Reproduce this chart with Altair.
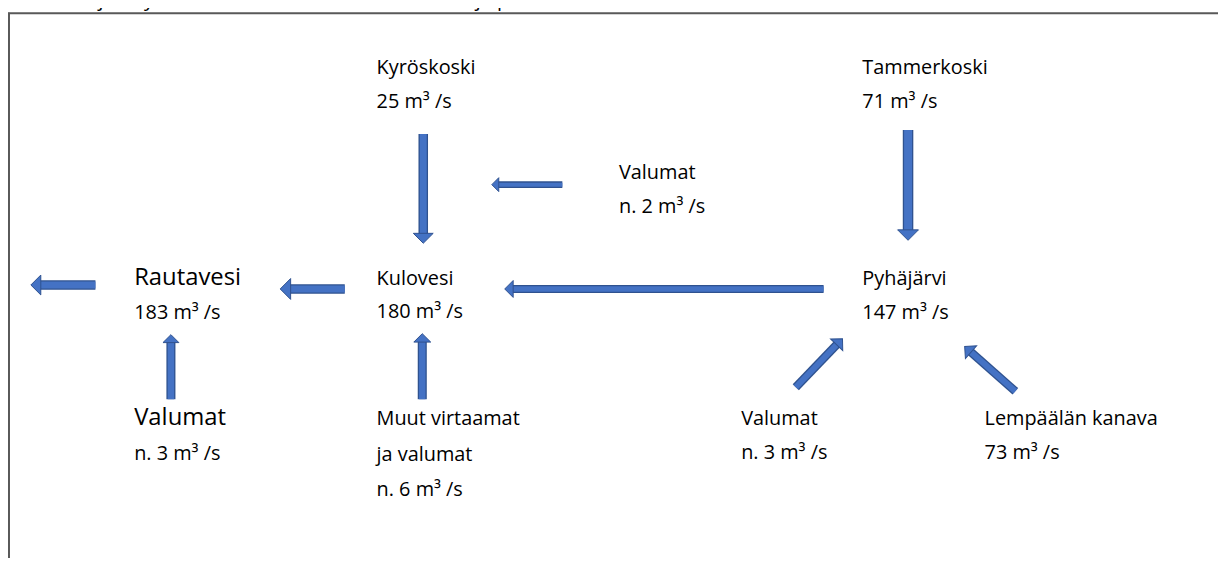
import math
import altair as alt
import pandas as pd

# ---- text labels (left x, baseline y in picture pixels) ----
label_text = ["Kyröskoski", "25 m³ /s", "Tammerkoski", "71 m³ /s",
              "Valumat", "n. 2 m³ /s",
              "Rautavesi", "183 m³ /s", "Kulovesi", "180 m³ /s",
              "Pyhäjärvi", "147 m³ /s",
              "Valumat", "n. 3 m³ /s",
              "Muut virtaamat", "ja valumat", "n. 6 m³ /s",
              "Valumat", "n. 3 m³ /s", "Lempäälän kanava", "73 m³ /s"]
label_x = [379, 379, 868, 868, 623, 623, 135, 135, 379, 379, 868, 868,
           135, 135, 379, 379, 379, 746, 746, 991, 991]
label_y = [73, 107, 73, 107, 178, 213, 285, 319, 285, 318, 285, 319,
           426, 461, 426, 462, 497, 426, 460, 426, 460]
label_size = [20, 20, 20, 20, 20, 20, 24, 20, 20, 20, 20, 20,
              24, 20, 20, 20, 20, 20, 20, 20, 20]

# ---- arrows: tail -> tip ----
arrow_tail_x = [96, 347, 829, 426, 566, 425, 172, 914, 801, 1022]
arrow_tail_y = [285, 289, 289, 133, 184, 400, 400, 129, 388, 392]
arrow_tip_x = [31, 282, 508, 426, 495, 425, 172, 914, 848, 971]
arrow_tip_y = [285, 289, 289, 243, 184, 334, 335, 240, 339, 347]
arrow_body = [9, 9, 7.5, 9, 6, 8.5, 8.5, 10, 8, 8]
arrow_head = [20, 21, 17, 20, 14, 17, 16, 21, 17, 17]

# ---- frame lines ----
frame_x = [8, 9]
frame_y = [11.5, 11]
frame_x2 = [1226, 9]
frame_y2 = [11.5, 566]

title_text = "Kokemäenjoen yläosan kalatalousalueen virtaamat ja pintavesien valumat."

FILL = "#4472C4"
EDGE = "#2F528F"
FONT = "Open Sans"

rows = []
for tx, ty, hx, hy, b, w in zip(arrow_tail_x, arrow_tail_y, arrow_tip_x,
                                arrow_tip_y, arrow_body, arrow_head):
    dx, dy = hx - tx, hy - ty
    ln = math.hypot(dx, dy)
    ux, uy = dx / ln, dy / ln
    hl = w / 2 - 1
    rows.append(dict(tx=tx, ty=ty, hx=hx, hy=hy,
                     bx=hx - ux * hl, by=hy - uy * hl,
                     outer=b + 0.6, inner=b - 2.0,
                     size=w * w,
                     angle=(math.degrees(math.atan2(dx, -dy)) + 360) % 360))
arrows = pd.DataFrame(rows)

labels = pd.DataFrame(dict(t=label_text, x=label_x, y=label_y, s=label_size))
frame = pd.DataFrame(dict(x=frame_x, y=frame_y, x2=frame_x2, y2=frame_y2))
title = pd.DataFrame(dict(t=[title_text], x=[0], y=[4]))

W, H = 1218, 550
xs = alt.Scale(domain=[8, 8 + W])
ys = alt.Scale(domain=[8, 8 + H], reverse=True)

def X(f):
    return alt.X(f, type="quantitative", scale=xs, axis=None)

def Y(f):
    return alt.Y(f, type="quantitative", scale=ys, axis=None)

frame_l = alt.Chart(frame).mark_rule(color="#595959", strokeWidth=2).encode(
    x=X("x"), y=Y("y"), x2="x2", y2="y2")

body_out = alt.Chart(arrows).mark_rule(color=EDGE, strokeCap="butt").encode(
    x=X("tx"), y=Y("ty"), x2="bx", y2="by",
    strokeWidth=alt.StrokeWidth("outer:Q", scale=None))
body_in = alt.Chart(arrows).mark_rule(color=FILL, strokeCap="butt").encode(
    x=X("tx"), y=Y("ty"), x2="bx", y2="by",
    strokeWidth=alt.StrokeWidth("inner:Q", scale=None))
heads = alt.Chart(arrows).mark_point(
    shape="M-1,1L0,0L1,1Z", filled=True, fill=FILL, stroke=EDGE,
    strokeWidth=1, opacity=1, fillOpacity=1, strokeOpacity=1).encode(
    x=X("hx"), y=Y("hy"),
    size=alt.Size("size:Q", scale=None),
    angle=alt.Angle("angle:Q", scale=None))

texts = alt.Chart(labels).mark_text(
    align="left", baseline="alphabetic", font=FONT, color="#000000").encode(
    x=X("x"), y=Y("y"), text="t:N",
    size=alt.Size("s:Q", scale=None))

title_l = alt.Chart(title).mark_text(
    align="left", baseline="alphabetic", font=FONT, fontSize=20,
    color="#000000").encode(x=X("x"), y=Y("y"), text="t:N")

chart = alt.layer(frame_l, body_out, body_in, heads, texts, title_l).properties(
    width=W, height=H, padding=0,
    autosize=alt.AutoSizeParams(type="none"),
    background="white",
).configure_view(stroke=None)

chart.save("out.html", embed_options={"renderer": "svg", "actions": False})
